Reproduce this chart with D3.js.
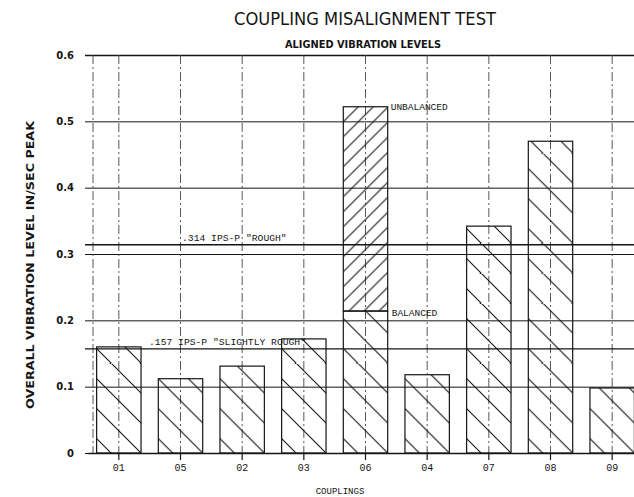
<!DOCTYPE html>
<html>
<head>
<meta charset="utf-8">
<script src="https://cdn.jsdelivr.net/npm/d3@7"></script>
<style>
  body { margin: 0; background: #fff; }
  svg { display: block; }
</style>
</head>
<body>
<div id="chart"></div>
<script>
// chart data
const couplings = ["01", "05", "02", "03", "06", "04", "07", "08", "09"];
const alignedLevels = [0.16, 0.112, 0.131, 0.172, 0.214, 0.118, 0.342, 0.47, 0.098];
const unbalancedCoupling = "06";
const unbalancedLevel = 0.522;
const limitValues = [0.314, 0.157];
const limitLabels = ['.314 IPS-P "ROUGH"', '.157 IPS-P "SLIGHTLY ROUGH"'];
const yTicks = [0, 0.1, 0.2, 0.3, 0.4, 0.5, 0.6];
const yTickLabels = ["0", "0.1", "0.2", "0.3", "0.4", "0.5", "0.6"];

const width = 634, height = 497;
const ink = "#151515";
const mono = "'Liberation Mono', 'DejaVu Sans Mono', monospace";

const svg = d3.select("#chart").append("svg")
    .attr("width", width)
    .attr("height", height);

// x: band per coupling, plot runs off the right edge like the scan
const x = d3.scaleBand()
    .domain(couplings)
    .range([88, 643])
    .paddingInner(0.28)
    .paddingOuter(0.14);

const y = d3.scaleLinear()
    .domain([0, 0.6])
    .range([453, 55]);

const defs = svg.append("defs");

// hatch tiles anchored on each bar's bottom-right corner
function hatch(id, size, ox, oy, forward) {
    const p = defs.append("pattern")
        .attr("id", id)
        .attr("patternUnits", "userSpaceOnUse")
        .attr("x", ox)
        .attr("y", oy)
        .attr("width", size)
        .attr("height", size);
    const s = size;
    const d = forward
        ? `M-1,${s + 1} L${s + 1},-1 M-1,1 L1,-1 M${s - 1},${s + 1} L${s + 1},${s - 1}`
        : `M-1,-1 L${s + 1},${s + 1} M-1,${s - 1} L1,${s + 1} M${s - 1},-1 L${s + 1},1`;
    p.append("path")
        .attr("d", d)
        .attr("stroke", ink)
        .attr("stroke-width", 1.1)
        .attr("fill", "none");
}

couplings.forEach((c) => {
    hatch("hatch-" + c, 30, x(c) + x.bandwidth(), y(0), false);
});
hatch("hatch-unbal", 15, x(unbalancedCoupling), y(unbalancedLevel), true);

// horizontal grid + y labels
svg.append("g")
    .attr("class", "y axis")
    .attr("transform", "translate(85, 0)")
    .call(d3.axisLeft(y)
        .tickValues(yTicks)
        .tickFormat((d, i) => yTickLabels[i])
        .tickSize(-(width - 85))
        .tickPadding(11))
    .call((g) => g.select(".domain").remove())
    .call((g) => g.selectAll(".tick line")
        .attr("stroke", ink)
        .attr("stroke-width", (d) => d === 0.6 ? 1.6 : 1))
    .call((g) => g.selectAll(".tick text")
        .attr("fill", ink)
        .style("font-family", "'DejaVu Sans', sans-serif")
        .style("font-weight", "bold")
        .style("font-size", "10px"));

// dash-dot verticals: left edge and one through each coupling
const vx = [93].concat(couplings.map((c) => x(c) + x.bandwidth() / 2));
svg.append("g")
    .selectAll("line")
    .data(vx)
    .enter().append("line")
    .attr("x1", (d) => d)
    .attr("x2", (d) => d)
    .attr("y1", y(0.6))
    .attr("y2", y(0))
    .attr("stroke", "#444")
    .attr("stroke-width", 0.9)
    .attr("stroke-dasharray", "9,3,2,3");

// bars
svg.append("g")
    .selectAll("rect")
    .data(couplings)
    .enter().append("rect")
    .attr("x", (d) => x(d))
    .attr("y", (d, i) => y(alignedLevels[i]))
    .attr("width", x.bandwidth())
    .attr("height", (d, i) => y(0) - y(alignedLevels[i]))
    .attr("fill", (d) => `url(#hatch-${d})`)
    .attr("stroke", ink)
    .attr("stroke-width", 1.2);

// unbalanced part stacked on coupling 06
const balanced06 = alignedLevels[couplings.indexOf(unbalancedCoupling)];
svg.append("rect")
    .attr("x", x(unbalancedCoupling))
    .attr("y", y(unbalancedLevel))
    .attr("width", x.bandwidth())
    .attr("height", y(balanced06) - y(unbalancedLevel))
    .attr("fill", "url(#hatch-unbal)")
    .attr("stroke", ink)
    .attr("stroke-width", 1.2);

const noteX = x(unbalancedCoupling) + x.bandwidth() + 3;
svg.append("text")
    .attr("x", noteX)
    .attr("y", y(unbalancedLevel) + 3)
    .style("font-family", mono)
    .style("font-size", "9.5px")
    .attr("fill", ink)
    .text("UNBALANCED");
svg.append("text")
    .attr("x", noteX + 1)
    .attr("y", y(balanced06) + 5)
    .style("font-family", mono)
    .style("font-size", "9.5px")
    .attr("fill", ink)
    .text("BALANCED");

// severity limit lines
const limitTextX = [182, 149];
svg.append("g")
    .selectAll("line")
    .data(limitValues)
    .enter().append("line")
    .attr("x1", 85)
    .attr("x2", width)
    .attr("y1", (d) => y(d))
    .attr("y2", (d) => y(d))
    .attr("stroke", ink)
    .attr("stroke-width", 1.4);
svg.append("g")
    .selectAll("text")
    .data(limitValues)
    .enter().append("text")
    .attr("x", (d, i) => limitTextX[i])
    .attr("y", (d) => y(d) - 4)
    .style("font-family", mono)
    .style("font-size", "9.7px")
    .attr("fill", ink)
    .text((d, i) => limitLabels[i]);

// x axis
svg.append("g")
    .attr("class", "x axis")
    .attr("transform", `translate(0, ${y(0)})`)
    .call(d3.axisBottom(x).tickSize(7).tickSizeOuter(0).tickPadding(4))
    .call((g) => g.select(".domain").attr("stroke", ink).attr("stroke-width", 1.6))
    .call((g) => g.selectAll(".tick line").attr("stroke", ink).attr("stroke-width", 1.2))
    .call((g) => g.selectAll(".tick text")
        .attr("fill", ink)
        .style("font-family", mono)
        .style("font-size", "10px"));

// titles
svg.append("text")
    .attr("x", 365)
    .attr("y", 25)
    .attr("text-anchor", "middle")
    .attr("textLength", 262)
    .attr("lengthAdjust", "spacingAndGlyphs")
    .style("font-family", "'DejaVu Sans', sans-serif")
    .style("font-size", "17px")
    .attr("fill", ink)
    .text("COUPLING MISALIGNMENT TEST");

svg.append("text")
    .attr("x", 363)
    .attr("y", 48)
    .attr("text-anchor", "middle")
    .attr("textLength", 156)
    .attr("lengthAdjust", "spacingAndGlyphs")
    .style("font-family", "'DejaVu Sans', sans-serif")
    .style("font-weight", "bold")
    .style("font-size", "10px")
    .attr("fill", ink)
    .text("ALIGNED VIBRATION LEVELS");

svg.append("text")
    .attr("transform", "translate(34, 265) rotate(-90)")
    .attr("text-anchor", "middle")
    .attr("textLength", 288)
    .attr("lengthAdjust", "spacingAndGlyphs")
    .style("font-family", "'DejaVu Sans', sans-serif")
    .style("font-weight", "bold")
    .style("font-size", "10.5px")
    .attr("fill", ink)
    .text("OVERALL VIBRATION LEVEL IN/SEC PEAK");

svg.append("text")
    .attr("x", 340)
    .attr("y", 494)
    .attr("text-anchor", "middle")
    .style("font-family", mono)
    .style("font-size", "9px")
    .attr("fill", ink)
    .text("COUPLINGS");
</script>
</body>
</html>
